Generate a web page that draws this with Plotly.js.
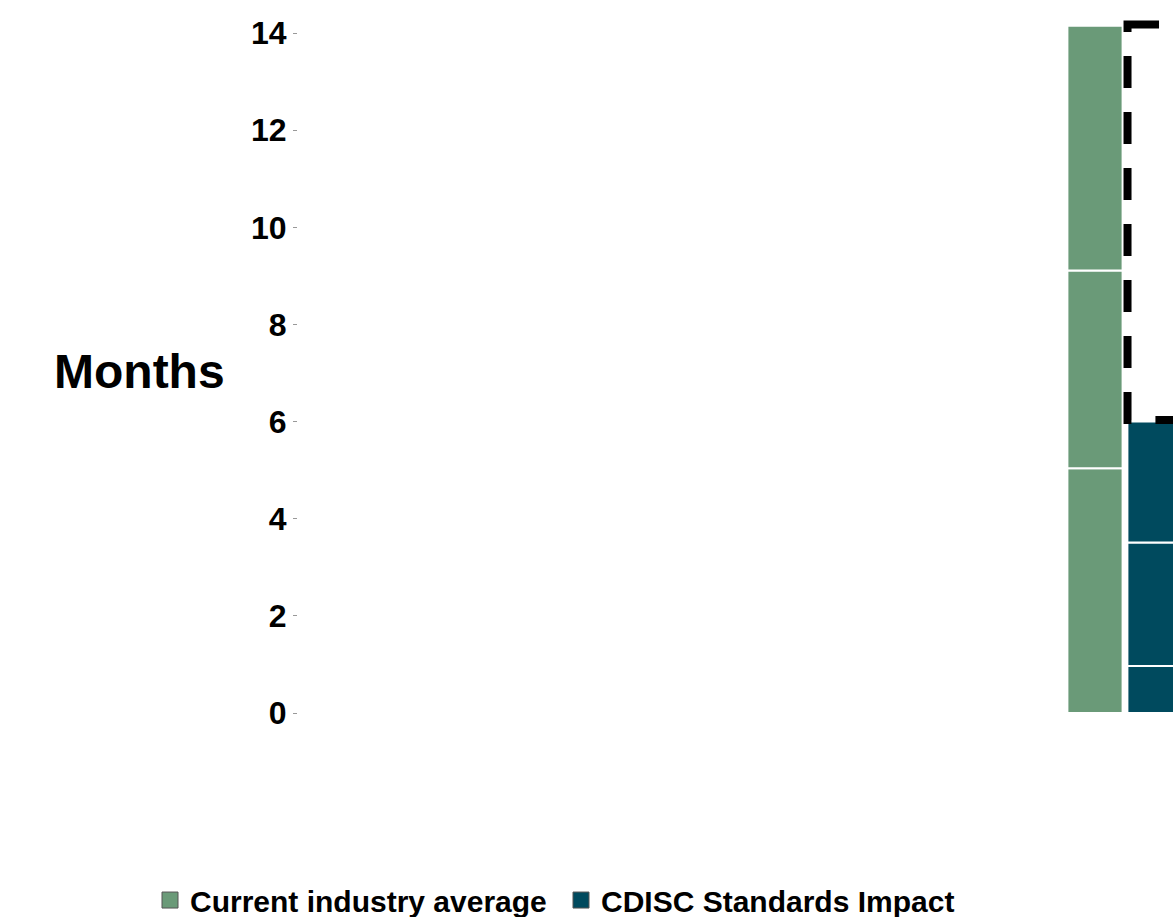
<!DOCTYPE html>
<html>
<head>
<meta charset="utf-8">
<script src="https://cdn.plot.ly/plotly-3.0.1.min.js"></script>
<style>html,body{margin:0;padding:0;background:#fff;}#chart{width:1173px;height:917px;}</style>
</head>
<body>
<div id="chart"></div>
<script>
// Data
const categories = ["Current industry average", "CDISC Standards Impact"];
const currentSegments = [5.04, 4.07, 5.04];   // months per phase (stacked)
const cdiscSegments = [0.97, 2.54, 2.49];      // months per phase (stacked)
const seriesColors = ["#6a9a78", "#004a5e"];
const yTicks = [0, 2, 4, 6, 8, 10, 12, 14];

function cumBase(arr) { const b = []; let s = 0; arr.forEach(v => { b.push(s); s += v; }); return b; }
const total = arr => arr.reduce((a, b) => a + b, 0);

const traces = [currentSegments, cdiscSegments].map((seg, i) => ({
  type: 'bar',
  name: categories[i],
  showlegend: false,
  x: seg.map(() => i),
  y: seg,
  base: cumBase(seg),
  width: 0.92,
  marker: { color: seriesColors[i], line: { color: '#ffffff', width: 2 } },
  hoverinfo: 'skip'
}));

// legend entries (square swatches with grey outline)
categories.forEach((c, i) => traces.push({
  type: 'scatter', mode: 'markers', name: c, x: [null], y: [null],
  marker: { symbol: 'square', size: 16, color: seriesColors[i], line: { color: '#555', width: 1 } },
  hoverinfo: 'skip'
}));

// Dashed bracket between the two totals
const topCur = total(currentSegments), topCd = total(cdiscSegments);
let dashes = ['39px', '24px'];
for (let k = 0; k < 12; k++) dashes.push('32px', '24px');
traces.push({
  type: 'scatter', mode: 'lines', showlegend: false, hoverinfo: 'skip',
  x: [1.067, 0.542, 0.542, 1.45],
  y: [topCur + 0.025, topCur + 0.025, topCd + 0.03, topCd + 0.03],
  line: { color: '#000', width: 8, dash: dashes.join(',') }
});

const layout = {
  width: 1173, height: 917,
  margin: { l: 298, r: 0, t: 0, b: 177 },
  paper_bgcolor: '#ffffff', plot_bgcolor: '#ffffff',
  barmode: 'overlay',
  showlegend: true,
  xaxis: { range: [-13.283, 1.3], showgrid: false, zeroline: false, showticklabels: false, ticks: '', showline: false, fixedrange: true },
  yaxis: {
    range: [-0.556, 14.68], tickvals: yTicks, ticktext: yTicks.map(String),
    showgrid: false, zeroline: false, showline: false,
    ticks: 'outside', ticklen: 4, tickwidth: 1, tickcolor: '#999',
    tickfont: { family: 'Liberation Sans, Arial, sans-serif', size: 32, color: '#000', weight: 'bold' }
  },
  legend: {
    orientation: 'h', xref: 'container', x: 150 / 1173, xanchor: 'left',
    yref: 'container', y: 0.0185, yanchor: 'middle',
    font: { family: 'Liberation Sans, Arial, sans-serif', size: 30, color: '#000', weight: 'bold' },
    itemsizing: 'trace', tracegroupgap: 0, bgcolor: 'rgba(0,0,0,0)',
    entrywidth: 366, entrywidthmode: 'pixels'
  },
  annotations: [{
    text: '<b>Months</b>', xref: 'paper', yref: 'paper',
    x: (139 - 298) / 875, y: (740 - 371.5) / 740, xanchor: 'center', yanchor: 'middle',
    showarrow: false, font: { family: 'Liberation Sans, Arial, sans-serif', size: 48, color: '#000' }
  }]
};

Plotly.newPlot('chart', traces, layout, { displayModeBar: false, staticPlot: true });
</script>
</body>
</html>
